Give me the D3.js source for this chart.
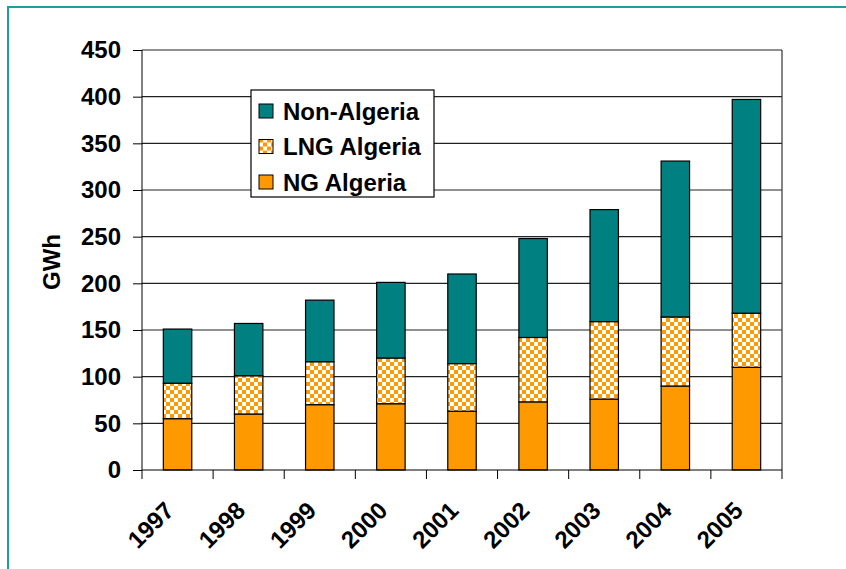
<!DOCTYPE html>
<html>
<head>
<meta charset="utf-8">
<script src="https://cdn.jsdelivr.net/npm/d3@7"></script>
<style>
  body { margin: 0; background: #fff; }
  svg { display: block; font-family: "Liberation Sans", Arial, sans-serif; font-weight: bold; }
  .axis text { font-size: 24px; font-weight: bold; fill: #000; }
  .axis path, .axis line { stroke: #000; }
</style>
</head>
<body>
<svg width="846" height="569"></svg>
<script>
var years = ["1997", "1998", "1999", "2000", "2001", "2002", "2003", "2004", "2005"];
var ngAlgeria = [55, 60, 70, 71, 63, 73, 76, 90, 110];
var lngAlgeria = [38, 41, 46, 49, 51, 69, 83, 74, 58];
var nonAlgeria = [58, 56, 66, 81, 96, 106, 120, 167, 229];
var yTicks = [0, 50, 100, 150, 200, 250, 300, 350, 400, 450];
var seriesNames = ["Non-Algeria", "LNG Algeria", "NG Algeria"];

var svg = d3.select("svg"),
    margin = {top: 50, right: 64, bottom: 99, left: 142},
    width = +svg.attr("width") - margin.left - margin.right,
    height = +svg.attr("height") - margin.top - margin.bottom;

// checkerboard fill for the LNG segment
var defs = svg.append("defs");
var pat = defs.append("pattern")
    .attr("id", "checker")
    .attr("patternUnits", "userSpaceOnUse")
    .attr("width", 8)
    .attr("height", 8);
pat.append("rect").attr("width", 8).attr("height", 8).attr("fill", "#fff");
pat.append("rect").attr("width", 4).attr("height", 4).attr("fill", "#ff9900");
pat.append("rect").attr("x", 4).attr("y", 4).attr("width", 4).attr("height", 4).attr("fill", "#ff9900");

// outer frame
svg.append("rect")
    .attr("x", 8).attr("y", 7)
    .attr("width", 860).attr("height", 600)
    .attr("fill", "none")
    .attr("stroke", "#1aa0a0")
    .attr("stroke-width", 2);

var x = d3.scaleBand().domain(years).range([0, width]).paddingInner(0.6).paddingOuter(0.3),
    xb = d3.scaleBand().domain(years).range([0, width]),
    y = d3.scaleLinear().domain([0, 450]).range([height, 0]);

var g = svg.append("g")
    .attr("transform", "translate(" + margin.left + "," + margin.top + ")");

// grid lines
g.selectAll(".grid").data(yTicks.slice(1)).enter().append("line")
    .attr("class", "grid")
    .attr("x1", 0).attr("x2", width)
    .attr("y1", function(d) { return y(d); })
    .attr("y2", function(d) { return y(d); })
    .attr("stroke", "#222")
    .attr("stroke-width", 1.2);

g.append("line")
    .attr("x1", width).attr("x2", width)
    .attr("y1", 0).attr("y2", height)
    .attr("stroke", "#333").attr("stroke-width", 1.2);

var data = years.map(function(yr, i) {
  return {year: yr, ng: ngAlgeria[i], lng: lngAlgeria[i], non: nonAlgeria[i]};
});
var stack = d3.stack().keys(["ng", "lng", "non"]);
var layers = stack(data);
var fills = {ng: "#ff9900", lng: "url(#checker)", non: "#008080"};

g.selectAll(".layer").data(layers).enter().append("g")
    .attr("class", "layer")
    .attr("fill", function(d) { return fills[d.key]; })
  .selectAll("rect").data(function(d) { return d; }).enter().append("rect")
    .attr("x", function(d) { return x(d.data.year); })
    .attr("width", x.bandwidth())
    .attr("y", function(d) { return y(d[1]); })
    .attr("height", function(d) { return y(d[0]) - y(d[1]); })
    .attr("stroke", "#000")
    .attr("stroke-width", 1.2);

// y axis
var yAxis = d3.axisLeft(y).tickValues(yTicks).tickSize(9).tickPadding(12);
g.append("g")
    .attr("class", "axis axis--y")
    .call(yAxis)
    .call(function(s) { s.select(".domain").attr("d", "M0," + height + "V0"); });

// x axis: ticks on category boundaries
var xAxisG = g.append("g")
    .attr("class", "axis axis--x")
    .attr("transform", "translate(0," + height + ")");
xAxisG.append("line")
    .attr("x1", 0).attr("x2", width)
    .attr("stroke", "#000");
var bounds = years.map(function(d) { return xb(d); }).concat([width]);
xAxisG.selectAll(".tickb").data(bounds).enter().append("line")
    .attr("x1", function(d) { return d; })
    .attr("x2", function(d) { return d; })
    .attr("y1", 0).attr("y2", 9)
    .attr("stroke", "#000");
xAxisG.selectAll(".lbl").data(years).enter().append("text")
    .attr("text-anchor", "end")
    .attr("dy", "0.35em")
    .attr("transform", function(d) {
      return "translate(" + (xb(d) + xb.bandwidth() / 2 - 8) + ",36) rotate(-45)";
    })
    .text(function(d) { return d; });

// y title
svg.append("text")
    .attr("transform", "translate(60,262) rotate(-90)")
    .attr("text-anchor", "middle")
    .attr("font-size", 24)
    .text("GWh");

// legend
var leg = svg.append("g").attr("transform", "translate(251,90)");
leg.append("rect")
    .attr("width", 183).attr("height", 107)
    .attr("fill", "#fff").attr("stroke", "#000").attr("stroke-width", 1.2);
var legFills = ["#008080", "url(#checker)", "#ff9900"];
var items = leg.selectAll(".item").data(seriesNames).enter().append("g")
    .attr("transform", function(d, i) { return "translate(0," + (21 + i * 35.5) + ")"; });
items.append("rect")
    .attr("x", 8).attr("y", -7)
    .attr("width", 14).attr("height", 14)
    .attr("fill", function(d, i) { return legFills[i]; })
    .attr("stroke", "#000");
items.append("text")
    .attr("x", 32)
    .attr("dy", "0.36em")
    .attr("font-size", 24)
    .text(function(d) { return d; });
</script>
</body>
</html>
